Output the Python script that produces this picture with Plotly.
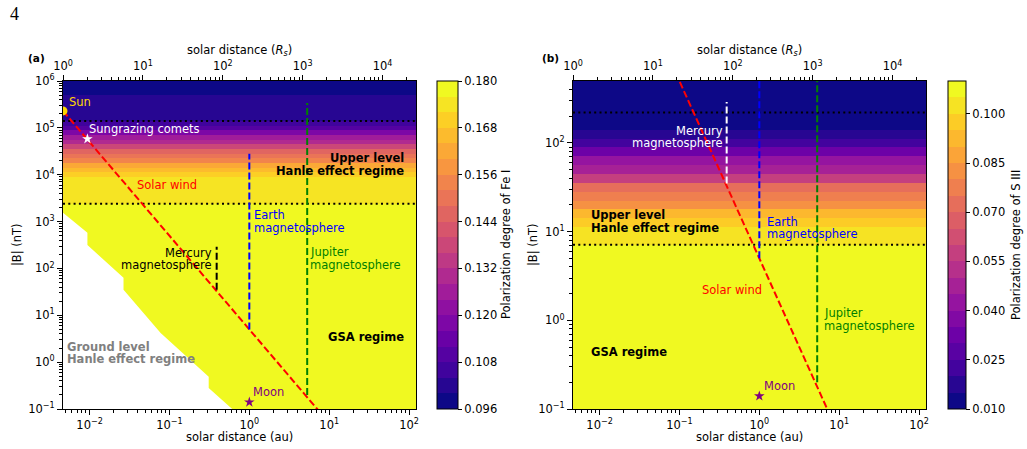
import math
import plotly.graph_objects as go
from plotly.colors import sample_colorscale

W, H = 1027, 449
FONT = "DejaVu Sans"

# ---------------- data ----------------
RS_IN_AU = 0.00465                     # 1 solar radius in au
x_range_au = [0.00465, 122.0]          # solar distance range (au)
b_range_a = [0.1, 1.0e6]               # |B| range panel (a), nT
b_range_b = [0.1, 500.0]               # |B| range panel (b), nT

# panel (a) Fe I: band edges in |B| (nT) and polarization per band
b_edges_a = [0.1, 2400, 7100, 8900, 11200, 14100, 17800, 22400, 28200, 35500,
             44700, 56200, 70800, 89100, 112000, 141000, 501000, 1.0e6]
pol_a = [0.179, 0.175, 0.172, 0.169, 0.165, 0.160, 0.155, 0.150, 0.144, 0.138,
         0.131, 0.124, 0.117, 0.110, 0.104, 0.101, 0.097]

# panel (b) S III
b_edges_b = [0.1, 7.1, 8.9, 11.2, 14.1, 17.8, 22.4, 28.2, 35.5, 44.7, 56.2,
             70.8, 89.1, 112, 141, 178, 500]
pol_b = [0.108, 0.104, 0.101, 0.097, 0.091, 0.084, 0.078, 0.070, 0.060, 0.050,
         0.040, 0.031, 0.023, 0.018, 0.013, 0.012]

cbar_a = dict(zmin=0.096, zmax=0.180, nbands=21,
              ticks=[0.096, 0.108, 0.120, 0.132, 0.144, 0.156, 0.168, 0.180])
cbar_b = dict(zmin=0.010, zmax=0.110, nbands=20,
              ticks=[0.010, 0.025, 0.040, 0.055, 0.070, 0.085, 0.100])

# Hanle regime limits (nT)
hanle_lim_a = [2400, 1.4e5]
hanle_lim_b = [7.1, 220]

# ground-level Hanle regime (unfilled) boundary, panel (a)
ground_r_au = [0.004, 0.00465, 0.0094, 0.0094, 0.0266, 0.0266, 0.0776, 0.31, 0.31, 0.61, 0.61, 0.004]
ground_b_nT = [1550, 1550, 575, 316, 63, 35, 4.2, 0.49, 0.28, 0.1, 0.05, 0.05]

# solar wind
sw_r_au = [0.00465, 10.0]
sw_b_nT = [2.3e5, 0.05]

# magnetospheres (distance au, B range nT)
mercury_r, mercury_b = 0.39, [35, 290]
earth_r, earth_b = 1.0, [5, 2.8e4]
jupiter_r, jupiter_b = 5.3, [0.2, 3.4e5]

# point objects
sun_r, sun_b = 0.00465, 2.3e5
comet_r, comet_b = 0.0094, 5.8e4
moon_r, moon_b = 1.0, 0.14

# ---------------- helpers ----------------
def discrete_scale(n):
    cols = sample_colorscale("Plasma", [i / (n - 1) for i in range(n)])
    cs = []
    for i, c in enumerate(cols):
        cs.append([i / n, c])
        cs.append([(i + 1) / n, c])
    return cs

def sup(e):
    s = str(e).replace("-", "\u2212")
    return "10<sup>" + s + "</sup>"

def minor_vals(lo, hi, vmin, vmax):
    out = []
    for e in range(lo, hi + 1):
        for m in range(2, 10):
            v = m * 10 ** e
            if vmin < v < vmax:
                out.append(v)
    return out

def px(x):
    return x / W

def py(y):
    return 1 - y / H

LOGR = [math.log10(x_range_au[0]), math.log10(x_range_au[1])]
LOGRS = [math.log10(x_range_au[0] / RS_IN_AU), math.log10(x_range_au[1] / RS_IN_AU)]

TICKFONT = dict(family=FONT, size=11.5, color="black")
axis_common = dict(showline=True, linecolor="black", linewidth=1, showgrid=False,
                   zeroline=False, ticks="outside", ticklen=5, tickwidth=1,
                   tickcolor="black", tickfont=TICKFONT)

def xaxis_bottom(domain, anchor):
    return dict(type="log", range=LOGR, domain=domain, anchor=anchor,
                tickvals=[0.01, 0.1, 1, 10, 100], ticktext=[sup(e) for e in range(-2, 3)],
                minor=dict(tickvals=minor_vals(-3, 2, x_range_au[0], x_range_au[1]),
                           ticks="outside", ticklen=3, tickcolor="black", tickwidth=1),
                **axis_common)

def xaxis_top(over, anchor):
    return dict(type="log", range=LOGRS, overlaying=over, anchor=anchor, side="top",
                tickvals=[1, 10, 100, 1000, 10000], ticktext=[sup(e) for e in range(0, 5)],
                minor=dict(tickvals=minor_vals(0, 4, 1, 10 ** LOGRS[1]),
                           ticks="outside", ticklen=3, tickcolor="black", tickwidth=1),
                **axis_common)

def yaxis(domain, anchor, brange, exps):
    return dict(type="log", range=[math.log10(brange[0]), math.log10(brange[1])],
                domain=domain, anchor=anchor, mirror=True,
                tickvals=[10 ** e for e in exps], ticktext=[sup(e) for e in exps],
                minor=dict(tickvals=minor_vals(-1, 6, brange[0], brange[1]),
                           ticks="outside", ticklen=3, tickcolor="black", tickwidth=1),
                **axis_common)

def colorbar(cfg, xleft, thick):
    return dict(x=px(xleft), xanchor="left", xref="paper", y=py(245), yanchor="middle",
                len=328, lenmode="pixels", thickness=thick, thicknessmode="pixels",
                xpad=0, ypad=0, outlinewidth=1, outlinecolor="black",
                tickvals=cfg["ticks"], tickformat=".3f", ticks="outside", ticklen=4,
                tickcolor="black", tickfont=TICKFONT,
                title=dict(text=""))

fig = go.Figure()

def heat(edges, pol, cfg, xa, ya, xleft, thick):
    fig.add_trace(go.Heatmap(
        x=[x_range_au[0], 130.0], y=edges, z=[[p] for p in pol],
        colorscale=discrete_scale(cfg["nbands"]), zmin=cfg["zmin"], zmax=cfg["zmax"],
        colorbar=colorbar(cfg, xleft, thick), xaxis=xa, yaxis=ya, hoverinfo="skip"))

def line(xs, ys, color, xa, ya, dash="7px,3px", width=2):
    fig.add_trace(go.Scatter(x=xs, y=ys, mode="lines", xaxis=xa, yaxis=ya,
                             line=dict(color=color, width=width, dash=dash),
                             showlegend=False, hoverinfo="skip"))

def marker(x, y, color, symbol, size, xa, ya):
    fig.add_trace(go.Scatter(x=[x], y=[y], mode="markers", xaxis=xa, yaxis=ya,
                             marker=dict(color=color, symbol=symbol, size=size, line=dict(width=0)),
                             showlegend=False, hoverinfo="skip"))

# ---- panel (a)
heat(b_edges_a, pol_a, cbar_a, "x", "y", 437, 21)
fig.add_trace(go.Scatter(x=ground_r_au, y=ground_b_nT, fill="toself", fillcolor="white",
                         mode="lines", line=dict(width=0, color="white"),
                         xaxis="x", yaxis="y", showlegend=False, hoverinfo="skip"))
for b in hanle_lim_a:
    line(x_range_au, [b, b], "black", "x", "y", dash="2px,3.3px", width=2)
line(sw_r_au, sw_b_nT, "red", "x", "y")
line([mercury_r, mercury_r], mercury_b, "black", "x", "y")
line([earth_r, earth_r], earth_b, "blue", "x", "y")
line([jupiter_r, jupiter_r], jupiter_b, "green", "x", "y")
marker(sun_r, sun_b, "gold", "circle", 9, "x", "y")
marker(comet_r, comet_b, "white", "star", 8, "x", "y")
marker(moon_r, moon_b, "purple", "star", 8, "x", "y")

# ---- panel (b)
heat(b_edges_b, pol_b, cbar_b, "x2", "y2", 948, 18)
for b in hanle_lim_b:
    line(x_range_au, [b, b], "black", "x2", "y2", dash="2px,3.3px", width=2)
line(sw_r_au, sw_b_nT, "red", "x2", "y2")
line([mercury_r, mercury_r], mercury_b, "white", "x2", "y2")
line([earth_r, earth_r], earth_b, "blue", "x2", "y2")
line([jupiter_r, jupiter_r], jupiter_b, "green", "x2", "y2")
marker(moon_r, moon_b, "purple", "star", 8, "x2", "y2")

# dummy traces so the top (R_s) axes exist
for xa, ya in (("x3", "y"), ("x4", "y2")):
    fig.add_trace(go.Scatter(x=[10], y=[1], xaxis=xa, yaxis=ya, mode="markers",
                             marker=dict(opacity=0), showlegend=False, hoverinfo="skip"))

# ---------------- annotations ----------------
ann = []

def label(text, x, y, color="black", anchor="left", bold=False, size=11.5, angle=0, family=FONT):
    if bold:
        text = "<b>" + text + "</b>"
    ann.append(dict(text=text, x=px(x), y=py(y), xref="paper", yref="paper",
                    xanchor=anchor, yanchor="middle", showarrow=False, textangle=angle,
                    font=dict(family=family, size=size, color=color)))

label("4", 8, 14, size=18, family="Liberation Serif")
# panel (a)
label("(a)", 36, 58, anchor="center", bold=True, size=10.5)
label("solar distance (<i>R</i><sub><i>s</i></sub>)", 239.5, 50, anchor="center", size=11.5)
label("solar distance (au)", 239.5, 437, anchor="center", size=11.5)
label("|B| (nT)", 17, 245, anchor="center", size=11.5, angle=-90)
label("Polarization degree of Fe I", 506, 245, anchor="center", size=11.5, angle=-90)
label("Sun", 67, 102, color="gold")
label("Sungrazing comets", 87, 129, color="white")
label("Solar wind", 135, 185, color="red")
label("Upper level", 406, 158, anchor="right", bold=True)
label("Hanle effect regime", 406, 171, anchor="right", bold=True)
label("Earth", 252, 215, color="blue")
label("magnetosphere", 252, 228, color="blue")
label("Mercury", 214, 253, anchor="right")
label("magnetosphere", 214, 265, anchor="right")
label("Jupiter", 308, 252, color="green")
label("magnetosphere", 308, 265, color="green")
label("GSA regime", 406, 337, anchor="right", bold=True)
label("Ground level", 65, 347, color="gray", bold=True)
label("Hanle effect regime", 65, 359, color="gray", bold=True)
label("Moon", 251, 392, color="purple")
# panel (b)
label("(b)", 550, 58, anchor="center", bold=True, size=10.5)
label("solar distance (<i>R</i><sub><i>s</i></sub>)", 749.5, 50, anchor="center", size=11.5)
label("solar distance (au)", 749.5, 437, anchor="center", size=11.5)
label("|B| (nT)", 533, 245, anchor="center", size=11.5, angle=-90)
label("Polarization degree of S III", 1016, 245, anchor="center", size=11.5, angle=-90)
label("Mercury", 725, 131, color="white", anchor="right")
label("magnetosphere", 725, 143, color="white", anchor="right")
label("Upper level", 589, 215, bold=True)
label("Hanle effect regime", 589, 228, bold=True)
label("Earth", 765, 222, color="blue")
label("magnetosphere", 765, 234, color="blue")
label("Solar wind", 700, 290, color="red")
label("Jupiter", 822, 313, color="green")
label("magnetosphere", 822, 326, color="green")
label("GSA regime", 589, 352, bold=True)
label("Moon", 762, 386, color="purple")

ydom = [py(409), py(81)]
fig.update_layout(
    template="none",
    width=W, height=H, autosize=False,
    margin=dict(l=0, r=0, t=0, b=0),
    paper_bgcolor="white", plot_bgcolor="white",
    showlegend=False,
    font=dict(family=FONT, size=11.5, color="black"),
    xaxis=xaxis_bottom([px(63), px(416)], "y"),
    yaxis=yaxis(ydom, "x", b_range_a, list(range(-1, 7))),
    xaxis3=xaxis_top("x", "y"),
    xaxis2=xaxis_bottom([px(573), px(926)], "y2"),
    yaxis2=yaxis(ydom, "x2", b_range_b, [-1, 0, 1, 2]),
    xaxis4=xaxis_top("x2", "y2"),
    annotations=ann,
)

fig.write_html("out.html")
